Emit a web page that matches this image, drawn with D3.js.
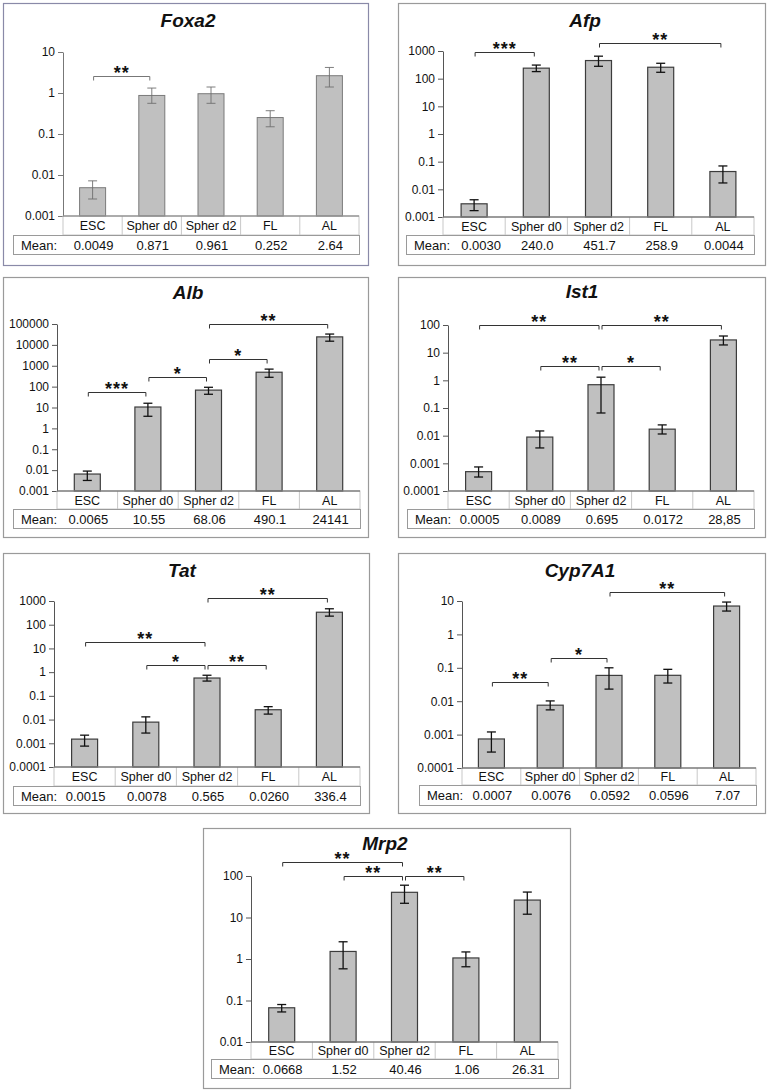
<!DOCTYPE html>
<html><head><meta charset="utf-8">
<script src="https://cdn.jsdelivr.net/npm/d3@7"></script>
<style>body{margin:0;background:#fff}svg{display:block;font-family:Arial,"Liberation Sans",sans-serif}</style>
</head><body><svg id="c" width="769" height="1092"></svg>
<script>
const categories = ["ESC", "Spher d0", "Spher d2", "FL", "AL"];
const genes = ["Foxa2", "Afp", "Alb", "Ist1", "Tat", "Cyp7A1", "Mrp2"];

const foxa2Values = [0.0049, 0.871, 0.961, 0.252, 2.64];
const foxa2Low    = [0.0026, 0.56, 0.56, 0.15, 1.4];
const foxa2High   = [0.0072, 1.32, 1.4, 0.37, 4.2];
const foxa2Means  = ["0.0049", "0.871", "0.961", "0.252", "2.64"];
const foxa2Ticks  = ["0.001", "0.01", "0.1", "1", "10"];
const foxa2Sig    = [[0, 1, "**", 2.6]];

const afpValues = [0.0030, 240.0, 451.7, 258.9, 0.044];
const afpLow    = [0.0017, 180, 280, 170, 0.017];
const afpHigh   = [0.0042, 310, 650, 360, 0.07];
const afpMeans  = ["0.0030", "240.0", "451.7", "258.9", "0.0044"];
const afpTicks  = ["0.001", "0.01", "0.1", "1", "10", "100", "1000"];
const afpSig    = [[0, 1, "***", 920], [2, 4, "**", 1950]];

const albValues = [0.0065, 10.55, 68.06, 490.1, 24141];
const albLow    = [0.0032, 3.8, 43, 280, 15000];
const albHigh   = [0.009, 16, 93, 690, 33000];
const albMeans  = ["0.0065", "10.55", "68.06", "490.1", "24141"];
const albTicks  = ["0.001", "0.01", "0.1", "1", "10", "100", "1000", "10000", "100000"];
const albSig    = [[0, 1, "***", 54], [1, 2, "*", 282], [2, 3, "*", 2090], [2, 4, "**", 100000]];

const ist1Values = [0.0005, 0.0089, 0.695, 0.0172, 28.85];
const ist1Low    = [0.00032, 0.0036, 0.066, 0.0115, 19];
const ist1High   = [0.00074, 0.0148, 1.3, 0.0245, 40];
const ist1Means  = ["0.0005", "0.0089", "0.695", "0.0172", "28,85"];
const ist1Ticks  = ["0.0001", "0.001", "0.01", "0.1", "1", "10", "100"];
const ist1Sig    = [[0, 2, "**", 100], [2, 4, "**", 100], [1, 2, "**", 3.3], [2, 3, "*", 3.3]];

const tatValues = [0.0015, 0.0078, 0.565, 0.0260, 336.4];
const tatLow    = [0.00076, 0.0027, 0.42, 0.017, 230];
const tatHigh   = [0.0022, 0.013, 0.74, 0.035, 470];
const tatMeans  = ["0.0015", "0.0078", "0.565", "0.0260", "336.4"];
const tatTicks  = ["0.0001", "0.001", "0.01", "0.1", "1", "10", "100", "1000"];
const tatSig    = [[2, 4, "**", 1340], [0, 2, "**", 18.6], [1, 2, "*", 2], [2, 3, "**", 2]];

const cypValues = [0.00074, 0.0076, 0.0592, 0.0596, 7.07];
const cypLow    = [0.0003, 0.0055, 0.023, 0.035, 5.0];
const cypHigh   = [0.0012, 0.0102, 0.1, 0.09, 9.3];
const cypMeans  = ["0.0007", "0.0076", "0.0592", "0.0596", "7.07"];
const cypTicks  = ["0.0001", "0.001", "0.01", "0.1", "1", "10"];
const cypSig    = [[0, 1, "**", 0.037], [1, 2, "*", 0.195], [2, 4, "**", 18.6]];

const mrp2Values = [0.0668, 1.52, 40.46, 1.06, 26.31];
const mrp2Low    = [0.053, 0.58, 22, 0.65, 12];
const mrp2High   = [0.08, 2.6, 60, 1.48, 41];
const mrp2Means  = ["0.0668", "1.52", "40.46", "1.06", "26.31"];
const mrp2Ticks  = ["0.01", "0.1", "1", "10", "100"];
const mrp2Sig    = [[0, 2, "**", 217], [1, 2, "**", 100], [2, 3, "**", 100]];

const svg = d3.select("#c");

function drawPanel(gene, values, low, high, means, ticks, sig, L) {
  const g = svg.append("g");
  const soft = gene === "Foxa2";
  g.append("rect").attr("x", L.frame[0] + 0.5).attr("y", L.frame[1] + 0.5)
    .attr("width", L.frame[2]).attr("height", L.frame[3])
    .attr("fill", "#fff").attr("stroke", soft ? "#8a8aa8" : "#9a9a9a").attr("stroke-width", 1.2);

  g.append("text").attr("x", L.titleX).attr("y", L.titleY)
    .attr("text-anchor", "middle").attr("font-size", 19).attr("font-weight", "bold")
    .attr("font-style", "italic").attr("fill", "#111").text(gene);

  const tickVals = ticks.map(Number);
  const x = d3.scaleBand().domain(categories).range([L.axisX, L.right]);
  const y = d3.scaleLog().domain([tickVals[0], tickVals[tickVals.length - 1]]).range([L.botY, L.topY]);
  const bw = 26;
  const cx = i => x(categories[i]) + x.bandwidth() / 2;

  g.selectAll(".bar").data(values).join("rect")
    .attr("x", (d, i) => cx(i) - bw / 2).attr("y", d => y(d))
    .attr("width", bw).attr("height", d => L.botY - y(d))
    .attr("fill", "#c0c0c0").attr("stroke", soft ? "#7a7a7a" : "#3c3c3c").attr("stroke-width", soft ? 1 : 1.2);

  const ec = soft ? "#6f6f6f" : "#111";
  const ew = soft ? 0.9 : 1.3;
  values.forEach((v, i) => {
    const c = cx(i);
    g.append("line").attr("x1", c).attr("x2", c).attr("y1", y(low[i])).attr("y2", y(high[i]))
      .attr("stroke", ec).attr("stroke-width", ew);
    [low[i], high[i]].forEach(e => {
      g.append("line").attr("x1", c - 4.5).attr("x2", c + 4.5).attr("y1", y(e)).attr("y2", y(e))
        .attr("stroke", ec).attr("stroke-width", ew);
    });
  });

  const axis = d3.axisLeft(y).tickValues(tickVals).tickFormat((d, i) => ticks[i])
    .tickSize(5).tickSizeOuter(0).tickPadding(3);
  const ag = g.append("g").attr("transform", `translate(${L.axisX},0)`).call(axis);
  ag.select(".domain").attr("stroke", soft ? "#777" : "#555");
  ag.selectAll(".tick line").attr("stroke", soft ? "#777" : "#555");
  ag.selectAll(".tick text").attr("font-size", 12).attr("fill", "#111")
    .attr("font-family", "Arial, 'Liberation Sans', sans-serif");

  g.append("rect").attr("x", L.axisX).attr("y", L.botY).attr("width", L.right - L.axisX)
    .attr("height", L.catBottom - L.botY).attr("fill", "none").attr("stroke", "#c8c8c8");
  categories.slice(1).forEach(c => {
    g.append("line").attr("x1", x(c)).attr("x2", x(c)).attr("y1", L.botY).attr("y2", L.catBottom)
      .attr("stroke", "#c8c8c8");
  });
  g.append("line").attr("x1", L.axisX).attr("x2", L.right).attr("y1", L.botY).attr("y2", L.botY)
    .attr("stroke", soft ? "#777" : "#555").attr("stroke-width", 1.2);
  categories.forEach((c, i) => {
    g.append("text").attr("x", cx(i)).attr("y", (L.botY + L.catBottom) / 2 + 4.5)
      .attr("text-anchor", "middle").attr("font-size", 12.5).attr("fill", "#111").text(c);
  });

  const mdx = L.meanDx || 0;
  g.append("rect").attr("x", L.meanLeft + 0.5).attr("y", L.catBottom + 0.5)
    .attr("width", L.right - L.meanLeft).attr("height", L.meanBottom - L.catBottom)
    .attr("fill", "none").attr("stroke", "#9a9a9a");
  g.append("text").attr("x", L.meanLeft + 8).attr("y", (L.catBottom + L.meanBottom) / 2 + 5)
    .attr("font-size", 13).attr("fill", "#111").text("Mean:");
  means.forEach((m, i) => {
    g.append("text").attr("x", cx(i) + 1 + (i === 0 ? mdx : 0)).attr("y", (L.catBottom + L.meanBottom) / 2 + 5)
      .attr("text-anchor", "middle").attr("font-size", 13).attr("fill", "#111").text(m);
  });

  sig.forEach(([a, b, lab, lvl]) => {
    const x1 = cx(a) + 1, x2 = cx(b) - 2, yb = Math.round(y(lvl)) + 0.5;
    g.append("path").attr("d", `M${x1},${yb + 4}V${yb}H${x2}V${yb + 4}`)
      .attr("fill", "none").attr("stroke", soft ? "#777" : "#333").attr("stroke-width", 1);
    g.append("text").attr("x", (x1 + x2) / 2).attr("y", yb + 2)
      .attr("text-anchor", "middle").attr("font-size", 18).attr("font-weight", "bold")
      .attr("letter-spacing", 1).attr("fill", "#111").text(lab);
  });
}

drawPanel(genes[0], foxa2Values, foxa2Low, foxa2High, foxa2Means, foxa2Ticks, foxa2Sig,
  {frame: [3, 3, 365, 262], axisX: 63, right: 359, topY: 52, botY: 216, titleX: 188, titleY: 27, catBottom: 235, meanBottom: 254, meanLeft: 13});
drawPanel(genes[1], afpValues, afpLow, afpHigh, afpMeans, afpTicks, afpSig,
  {frame: [398, 3, 367, 262], axisX: 443, right: 754, topY: 51, botY: 217, titleX: 585, titleY: 27, catBottom: 235, meanBottom: 254, meanLeft: 406, meanDx: 6});
drawPanel(genes[2], albValues, albLow, albHigh, albMeans, albTicks, albSig,
  {frame: [3, 277, 365, 260], axisX: 57, right: 360, topY: 324, botY: 491, titleX: 188, titleY: 299, catBottom: 509, meanBottom: 528, meanLeft: 13});
drawPanel(genes[3], ist1Values, ist1Low, ist1High, ist1Means, ist1Ticks, ist1Sig,
  {frame: [398, 277, 367, 260], axisX: 448, right: 754, topY: 325, botY: 491, titleX: 582, titleY: 298, catBottom: 509, meanBottom: 528, meanLeft: 407});
drawPanel(genes[4], tatValues, tatLow, tatHigh, tatMeans, tatTicks, tatSig,
  {frame: [3, 553, 366, 260], axisX: 54, right: 360, topY: 601, botY: 767, titleX: 182, titleY: 577, catBottom: 786, meanBottom: 805, meanLeft: 13});
drawPanel(genes[5], cypValues, cypLow, cypHigh, cypMeans, cypTicks, cypSig,
  {frame: [398, 553, 367, 260], axisX: 462, right: 756, topY: 601, botY: 768, titleX: 580, titleY: 577, catBottom: 785, meanBottom: 805, meanLeft: 419});
drawPanel(genes[6], mrp2Values, mrp2Low, mrp2High, mrp2Means, mrp2Ticks, mrp2Sig,
  {frame: [203, 828, 367, 260], axisX: 251, right: 558, topY: 876, botY: 1042, titleX: 385, titleY: 850, catBottom: 1059, meanBottom: 1078, meanLeft: 211});
</script>
</body></html>
